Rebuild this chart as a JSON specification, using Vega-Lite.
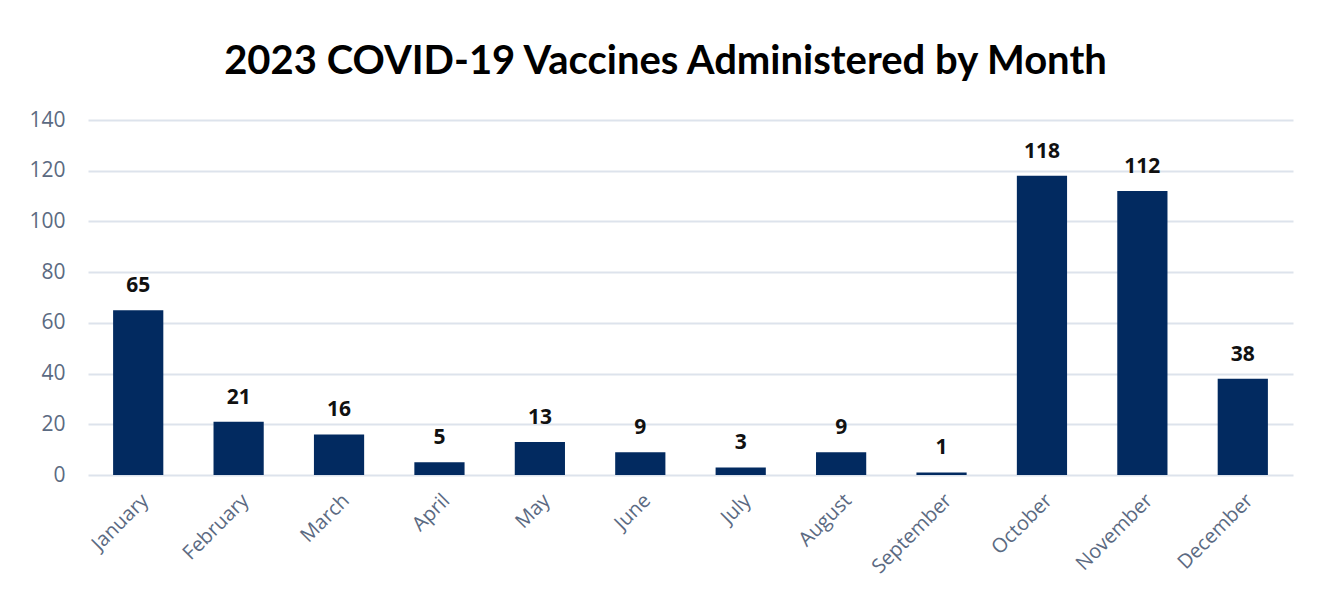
{
  "$schema": "https://vega.github.io/schema/vega-lite/v6.json",
  "autosize": {"type": "none"},
  "width": 1205,
  "height": 355,
  "padding": {"left": 88, "top": 120, "right": 30, "bottom": 130},
  "background": "white",
  "title": {
    "text": "2023 COVID-19 Vaccines Administered by Month",
    "font": "Lato",
    "fontSize": 40,
    "fontWeight": "bold",
    "color": "#000000",
    "anchor": "middle",
    "dx": -25,
    "dy": 50,
    "baseline": "alphabetic",
    "offset": 45
  },
  "data": {
    "values": [
      {"month": "January", "count": 65},
      {"month": "February", "count": 21},
      {"month": "March", "count": 16},
      {"month": "April", "count": 5},
      {"month": "May", "count": 13},
      {"month": "June", "count": 9},
      {"month": "July", "count": 3},
      {"month": "August", "count": 9},
      {"month": "September", "count": 1},
      {"month": "October", "count": 118},
      {"month": "November", "count": 112},
      {"month": "December", "count": 38}
    ]
  },
  "encoding": {
    "x": {
      "field": "month",
      "type": "nominal",
      "sort": null,
      "scale": {"paddingInner": 0.5, "paddingOuter": 0.25},
      "axis": {
        "title": null,
        "labelAngle": -45,
        "labelAlign": "right",
        "labelBaseline": "top",
        "labelFont": "Open Sans",
        "labelFontSize": 20,
        "labelColor": "#5b6a82",
        "labelPadding": 15,
        "ticks": false,
        "domain": false
      }
    },
    "y": {
      "field": "count",
      "type": "quantitative",
      "scale": {"domain": [0, 140]},
      "axis": {
        "title": null,
        "values": [0, 20, 40, 60, 80, 100, 120, 140],
        "labelFont": "Open Sans",
        "labelFontSize": 21,
        "labelColor": "#5b6a82",
        "labelPadding": 23,
        "ticks": false,
        "domain": false,
        "gridColor": "#dde3ec",
        "gridWidth": 2
      }
    }
  },
  "layer": [
    {"mark": {"type": "bar", "color": "#022a60"}},
    {
      "mark": {"type": "text", "dy": -24, "font": "Open Sans", "fontSize": 21, "fontWeight": "bold", "color": "#111111"},
      "encoding": {"text": {"field": "count", "type": "quantitative"}}
    }
  ],
  "config": {"view": {"stroke": null}}
}
